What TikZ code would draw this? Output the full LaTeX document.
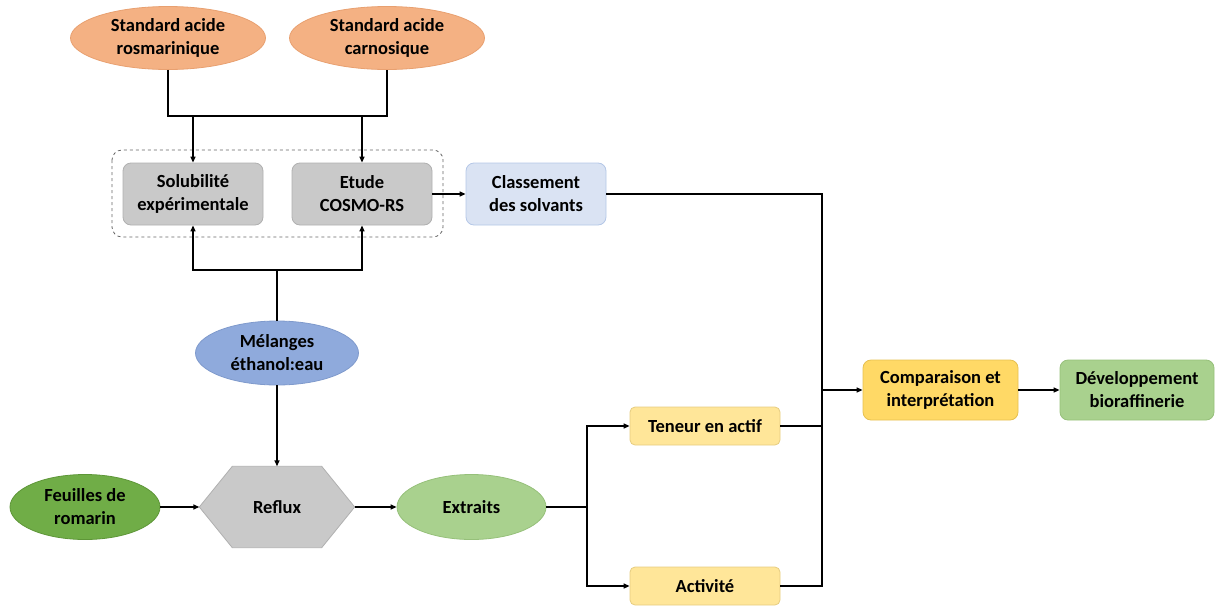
\documentclass[tikz,border=0pt]{standalone}
\usepackage{fontspec}
\setmainfont{Carlito}
\usetikzlibrary{shapes.geometric,arrows.meta,backgrounds}
\definecolor{cOrange}{HTML}{F4B183}
\definecolor{cOrangeB}{HTML}{E8A070}
\definecolor{cGray}{HTML}{C9C9C9}
\definecolor{cGrayB}{HTML}{B0B0B0}
\definecolor{cLBlue}{HTML}{DAE3F3}
\definecolor{cLBlueB}{HTML}{B4C7E7}
\definecolor{cBlue}{HTML}{8FAADC}
\definecolor{cBlueB}{HTML}{7F9ACC}
\definecolor{cGreen}{HTML}{70AD47}
\definecolor{cGreenB}{HTML}{5E9638}
\definecolor{cLGreen}{HTML}{A9D18E}
\definecolor{cLGreenB}{HTML}{96C07A}
\definecolor{cYellow}{HTML}{FFE699}
\definecolor{cYellowB}{HTML}{E6CC80}
\definecolor{cGold}{HTML}{FFD966}
\definecolor{cGoldB}{HTML}{E6C050}
\tikzset{
  x=1pt, y=-1pt,
  every node/.style={font=\fontsize{18.5}{23}\selectfont\bfseries, align=center, text=black},
  ell/.style={ellipse, inner sep=0pt, line width=0.8pt},
  rbox/.style={rectangle, rounded corners=8pt, inner sep=0pt, line width=0.8pt},
  conn/.style={line width=1.4pt, -{Triangle[length=6pt,width=5pt]}},
  plain/.style={line width=1.4pt},
  thick2/.style={line width=2pt},
}
\begin{document}
\begin{tikzpicture}
\useasboundingbox (0,0) rectangle (1215,608);
% dashed group
\draw[dashed, gray!80!black, rounded corners=10pt, line width=0.8pt] (112,150) rectangle (443,237);
% top ellipses
\node[ell, fill=cOrange, draw=cOrangeB, minimum width=195pt, minimum height=63pt] (ros) at (168,38) {Standard acide\\rosmarinique};
\node[ell, fill=cOrange, draw=cOrangeB, minimum width=195pt, minimum height=63pt] (car) at (387,38) {Standard acide\\carnosique};
% boxes
\node[rbox, fill=cGray, draw=cGrayB, minimum width=140pt, minimum height=62pt] (sol) at (193,194) {Solubilité\\expérimentale};
\node[rbox, fill=cGray, draw=cGrayB, minimum width=140pt, minimum height=62pt] (cos) at (362,194) {Etude\\COSMO-RS};
\node[rbox, fill=cLBlue, draw=cLBlueB, minimum width=140pt, minimum height=62pt] (cla) at (536,194) {Classement\\des solvants};
\node[ell, fill=cBlue, draw=cBlueB, minimum width=163pt, minimum height=64pt] (mel) at (277,353) {Mélanges\\éthanol:eau};
\node[ell, fill=cGreen, draw=cGreenB, minimum width=150pt, minimum height=65pt] (feu) at (85,507) {Feuilles de\\romarin};
\node[inner sep=0pt, minimum width=155pt, minimum height=81pt] (ref) at (277,507) {Reflux};
\begin{scope}[on background layer]
\fill[cGray] (ref.west) -- ([xshift=33pt]ref.north west) -- ([xshift=-33pt]ref.north east) -- (ref.east) -- ([xshift=-33pt]ref.south east) -- ([xshift=33pt]ref.south west) -- cycle;
\draw[cGrayB, line width=0.8pt] (ref.west) -- ([xshift=33pt]ref.north west) -- ([xshift=-33pt]ref.north east) -- (ref.east) -- ([xshift=-33pt]ref.south east) -- ([xshift=33pt]ref.south west) -- cycle;
\end{scope}
\node[ell, fill=cLGreen, draw=cLGreenB, minimum width=149pt, minimum height=65pt] (ext) at (471.5,507) {Extraits};
\node[rbox, rounded corners=5pt, fill=cYellow, draw=cYellowB, minimum width=150pt, minimum height=38pt] (ten) at (705,426) {Teneur en actif};
\node[rbox, rounded corners=5pt, fill=cYellow, draw=cYellowB, minimum width=150pt, minimum height=38pt] (act) at (705,586) {Activité};
\node[rbox, fill=cGold, draw=cGoldB, minimum width=155pt, minimum height=60pt] (com) at (940.5,390) {Comparaison et\\interprétation};
\node[rbox, fill=cLGreen, draw=cLGreenB, minimum width=154pt, minimum height=60pt] (dev) at (1137,390) {Développement\\bioraffinerie};
% coordinates
\coordinate (jt) at (277,116);
\coordinate (jb) at (277,270);
\coordinate (jx) at (587,507);
\coordinate (jr) at (822,390);
% top connectors
\draw[thick2] (ros.south) -- (ros.south |- jt) -- (car.south |- jt) -- (car.south);
\draw[conn] (sol.north |- jt) -- (sol.north);
\draw[conn] (cos.north |- jt) -- (cos.north);
% melanges up
\draw[plain] (mel.north) -- (jb);
\draw[conn] (jb) -| (sol.south);
\draw[conn] (jb) -| (cos.south);
\draw[conn] (cos.east) -- (cla.west);
% reflux chain
\draw[conn] (mel.south) -- (ref.north);
\draw[conn] (feu.east) -- (ref.west);
\draw[conn] (ref.east) -- (ext.west);
\draw[plain] (ext.east) -- (jx);
\draw[conn] (jx) |- (ten.west);
\draw[conn] (jx) |- (act.west);
% right collector
\draw[plain] (cla.east) -| (jr);
\draw[plain] (ten.east) -| (jr);
\draw[plain] (act.east) -| (jr);
\draw[conn] (jr) -- (com.west);
\draw[conn] (com.east) -- (dev.west);
\end{tikzpicture}
\end{document}
